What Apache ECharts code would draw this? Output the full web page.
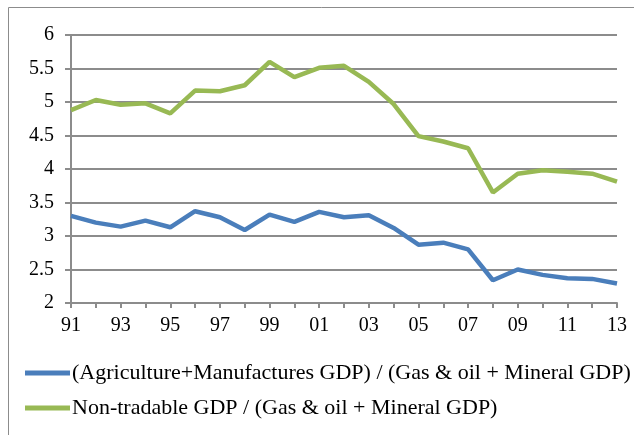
<!DOCTYPE html>
<html><head><meta charset="utf-8">
<script src="https://cdn.jsdelivr.net/npm/echarts@6/dist/echarts.min.js"></script>
<style>html,body{margin:0;padding:0;background:#fff}#c{width:634px;height:435px}</style>
</head><body><div id="c"></div>
<script>
var years = ["91","92","93","94","95","96","97","98","99","00","01","02","03","04","05","06","07","08","09","10","11","12","13"];
var agriManu = [3.30,3.20,3.14,3.23,3.13,3.37,3.28,3.09,3.32,3.21,3.36,3.28,3.31,3.12,2.87,2.90,2.80,2.34,2.50,2.42,2.37,2.36,2.29];
var nonTradable = [4.88,5.03,4.96,4.98,4.83,5.17,5.16,5.25,5.60,5.37,5.51,5.54,5.30,4.97,4.49,4.41,4.31,3.65,3.93,3.98,3.96,3.93,3.81];
var seriesNames = ["(Agriculture+Manufactures GDP) / (Gas & oil + Mineral GDP)", "Non-tradable GDP / (Gas & oil + Mineral GDP)"];
var colors = ["#4a7ebb", "#98b954"];
var font = "Liberation Serif";
var chart = echarts.init(document.getElementById('c'));
chart.setOption({
  animation: false,
  color: colors,
  graphic: [{type:'rect', shape:{x:8.5,y:7.5,width:700,height:500}, style:{fill:'none',stroke:'#8c8c8c',lineWidth:1}}],
  grid: {left:71, right:17, top:35, bottom:132},
  xAxis: {
    type:'category', data: years, boundaryGap:false,
    axisLine:{lineStyle:{color:'#8c8c8c',width:2}},
    axisTick:{show:true, interval:0, length:5, lineStyle:{color:'#8c8c8c',width:2}},
    axisLabel:{interval:1, color:'#000', fontFamily:font, fontSize:20, margin:13},
    splitLine:{show:false}
  },
  yAxis: {
    type:'value', min:2, max:6, interval:0.5,
    axisLine:{show:true, lineStyle:{color:'#8c8c8c',width:2}},
    axisTick:{show:true, length:6, lineStyle:{color:'#8c8c8c',width:2}},
    axisLabel:{color:'#000', fontFamily:font, fontSize:20, margin:17},
    splitLine:{lineStyle:{color:'#8c8c8c',width:2}}
  },
  legend: {
    orient:'vertical', left:25, top:362, itemGap:13, padding:0,
    icon:'rect', itemWidth:45, itemHeight:5,
    textStyle:{color:'#000', fontFamily:font, fontSize:22, padding:[0,0,0,-3]},
    data: seriesNames
  },
  series: [
    {name:seriesNames[0], type:'line', data:agriManu, showSymbol:false, symbol:'none', lineStyle:{width:4.5,color:colors[0]}},
    {name:seriesNames[1], type:'line', data:nonTradable, showSymbol:false, symbol:'none', lineStyle:{width:4.5,color:colors[1]}}
  ]
});
</script></body></html>
